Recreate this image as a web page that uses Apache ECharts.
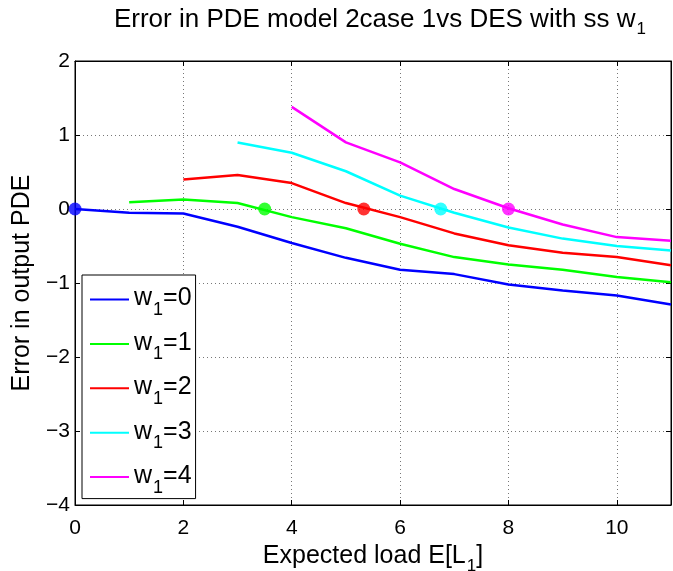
<!DOCTYPE html>
<html><head><meta charset="utf-8">
<script src="https://cdn.jsdelivr.net/npm/echarts@6/dist/echarts.min.js"></script>
<style>html,body{margin:0;padding:0;background:#fff}#c{width:673px;height:571px}</style>
</head><body><div id="c"></div>
<script>
const xTicks = [0, 2, 4, 6, 8, 10];
const yTicks = [-4, -3, -2, -1, 0, 1, 2];
const seriesNames = ['w1=0', 'w1=1', 'w1=2', 'w1=3', 'w1=4'];
const x0 = [0, 1, 2, 3, 4, 5, 6, 7, 8, 9, 10, 11];
const y0 = [0, -0.05, -0.06, -0.24, -0.46, -0.66, -0.82, -0.88, -1.02, -1.10, -1.17, -1.29];
const x1 = [1, 2, 3, 4, 5, 6, 7, 8, 9, 10, 11];
const y1 = [0.09, 0.13, 0.08, -0.11, -0.26, -0.47, -0.65, -0.75, -0.82, -0.92, -0.99];
const x2 = [2, 3, 4, 5, 6, 7, 8, 9, 10, 11];
const y2 = [0.40, 0.46, 0.35, 0.08, -0.11, -0.33, -0.49, -0.59, -0.65, -0.76];
const x3 = [3, 4, 5, 6, 7, 8, 9, 10, 11];
const y3 = [0.90, 0.76, 0.51, 0.18, -0.05, -0.25, -0.40, -0.50, -0.56];
const x4 = [4, 5, 6, 7, 8, 9, 10, 11];
const y4 = [1.38, 0.90, 0.63, 0.27, 0.01, -0.21, -0.38, -0.43];
const ssX = [0, 3.5, 5.33, 6.75, 8];
const ssY = [0, 0, 0, 0, 0];
const colors = ['#0000ff', '#00ff00', '#ff0000', '#00ffff', '#ff00ff'];

const xs = [x0, x1, x2, x3, x4];
const ys = [y0, y1, y2, y3, y4];
const FONT = 'Liberation Sans';
const minus = v => String(v).replace('-', '\u2212');

const series = seriesNames.map((n, i) => ({
  name: n, type: 'line', symbol: 'none', showSymbol: false,
  data: xs[i].map((x, j) => [x, ys[i][j]]),
  lineStyle: { color: colors[i], width: 2.5 }, itemStyle: { color: colors[i] },
  z: 3
}));
series.push({
  name: 'ss', type: 'scatter', clip: false, symbolSize: 13,
  data: ssX.map((x, j) => ({ value: [x, ssY[j]], itemStyle: { color: colors[j] } })),
  z: 4
});

function subRich(big, small, pad) {
  return {
    a: { fontFamily: FONT, fontSize: big, color: '#000', verticalAlign: 'top', lineHeight: big + 2 },
    s: { fontFamily: FONT, fontSize: small, color: '#000', verticalAlign: 'top', padding: [pad, 0, 0, 1], lineHeight: small + 1 }
  };
}
const line0 = { show: true, onZero: false, lineStyle: { color: '#000', width: 1 } };
const tick = { show: true, inside: true, length: 5, lineStyle: { color: '#000' } };
const grid0 = { show: true, lineStyle: { color: '#777', type: [1, 3], width: 1 } };

const chart = echarts.init(document.getElementById('c'), null, { renderer: 'canvas' });
chart.setOption({
  animation: false,
  backgroundColor: '#fff',
  title: {
    text: '{a|Error in PDE model 2case 1vs DES with ss w}{s|1}',
    left: 375, top: 2, textAlign: 'center',
    textStyle: { fontWeight: 'normal', rich: subRich(26, 17, 14) }
  },
  grid: { left: 75, right: 2, top: 61, bottom: 66, containLabel: false, outerBoundsMode: 'none',
    show: true, borderColor: '#000', borderWidth: 1 },
  legend: {
    data: seriesNames.map(n => ({ name: n, icon: 'rect' })),
    orient: 'vertical', left: 82, top: 275,
    backgroundColor: '#fff', borderColor: '#000', borderWidth: 1, borderRadius: 0,
    padding: [11, 4, 2, 8], itemWidth: 39, itemHeight: 2, itemGap: 11.4,
    formatter: n => '{a|w}{s|1}{a|=' + n.slice(3) + '}',
    textStyle: { rich: subRich(25, 18, 15) }
  },
  xAxis: [{
    type: 'value', min: 0, max: 11, interval: 2,
    name: '{a|Expected load E[L}{s|1}{a|]}', nameLocation: 'middle', nameGap: 33,
    nameTextStyle: { rich: subRich(25, 17, 14) },
    axisLine: line0, axisTick: tick,
    axisLabel: { fontFamily: FONT, fontSize: 21, color: '#000', margin: 13, showMaxLabel: false, formatter: minus },
    splitLine: grid0
  }, {
    type: 'value', min: 0, max: 11, interval: 2, position: 'top',
    axisLine: line0, axisTick: tick,
    axisLabel: { show: false }, splitLine: { show: false }
  }],
  yAxis: [{
    type: 'value', min: -4, max: 2, interval: 1,
    name: 'Error in output PDE', nameLocation: 'middle', nameGap: 40,
    nameTextStyle: { fontFamily: FONT, fontSize: 25, color: '#000' },
    axisLine: line0, axisTick: tick,
    axisLabel: { fontFamily: FONT, fontSize: 21, color: '#000', margin: 5, formatter: minus },
    splitLine: grid0
  }, {
    type: 'value', min: -4, max: 2, interval: 1, position: 'right',
    axisLine: line0, axisTick: tick,
    axisLabel: { show: false }, splitLine: { show: false }
  }],
  series: series
});
</script></body></html>
